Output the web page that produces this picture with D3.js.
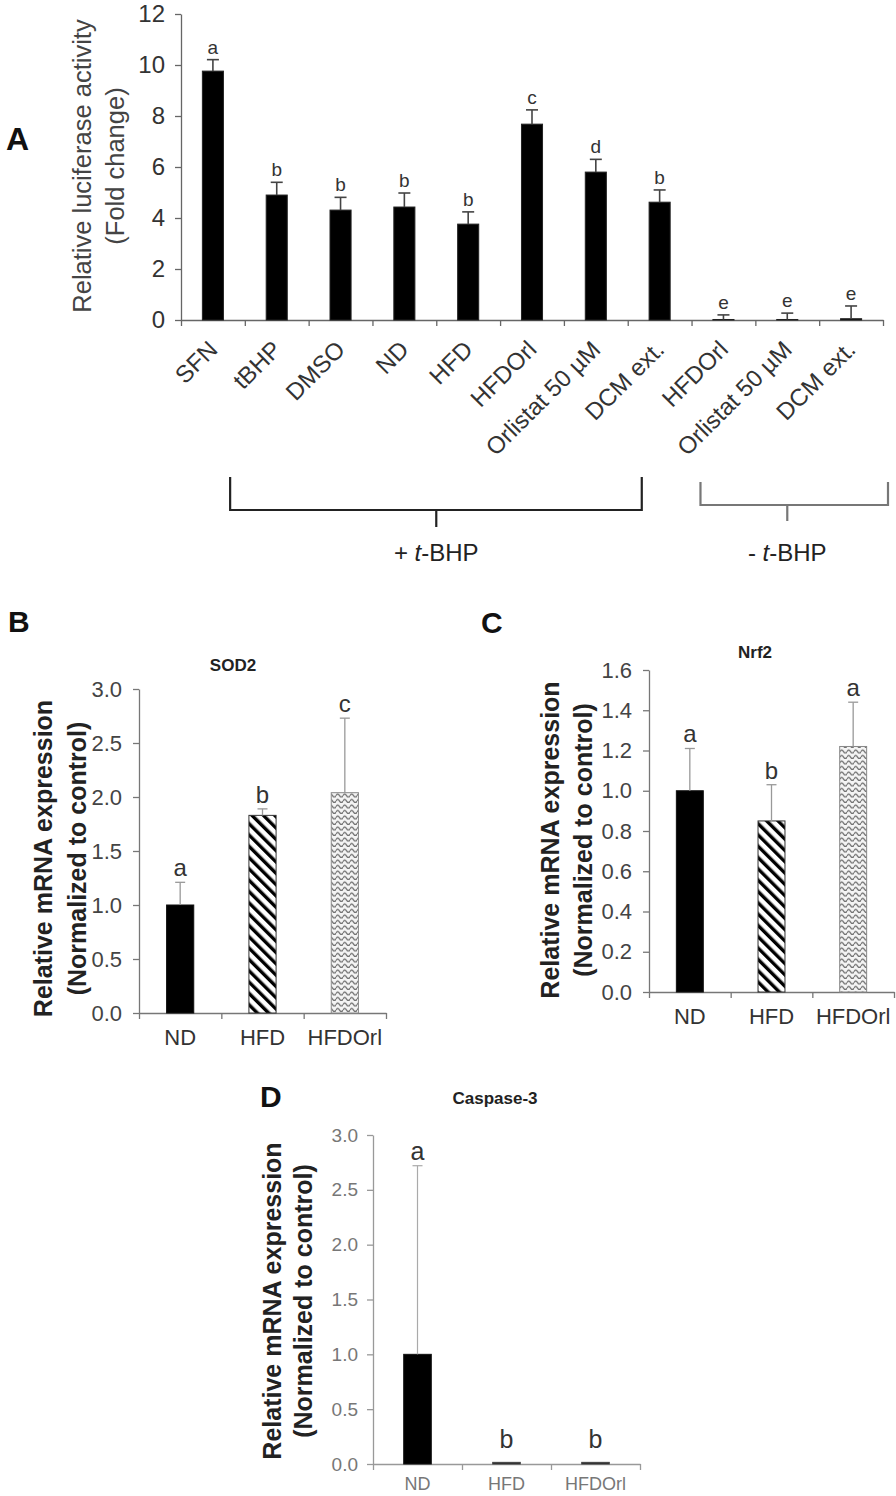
<!DOCTYPE html>
<html><head><meta charset="utf-8">
<script src="https://cdn.jsdelivr.net/npm/d3@7"></script>
<style>
body{margin:0;background:#fff}
svg{display:block}
text{font-family:"Liberation Sans",Arial,sans-serif}
</style>
</head><body>
<svg id="c" width="896" height="1496"></svg>
<script>
// ---------- Panel A data ----------
const catA = ["SFN","tBHP","DMSO","ND","HFD","HFDOrl","Orlistat 50 µM","DCM ext.","HFDOrl","Orlistat 50 µM","DCM ext."];
const valA = [9.76, 4.90, 4.31, 4.43, 3.76, 7.68, 5.80, 4.62, 0.02, 0.02, 0.05];
const errA = [0.45, 0.50, 0.50, 0.55, 0.48, 0.56, 0.50, 0.48, 0.18, 0.25, 0.50];
const letA = ["a","b","b","b","b","c","d","b","e","e","e"];
const ticksA = [0, 2, 4, 6, 8, 10, 12];
const groupA = [{label:"+ ", from:0, to:7, mid:3.5, dark:true}, {label:"- ", from:8, to:10, mid:9, dark:false}];

// ---------- Panel B (SOD2) ----------
const catB = ["ND","HFD","HFDOrl"];
const valB = [1.00, 1.83, 2.04];
const errB = [0.21, 0.06, 0.69];
const letB = ["a","b","c"];
const ticksB = [0, 0.5, 1.0, 1.5, 2.0, 2.5, 3.0];

// ---------- Panel C (Nrf2) ----------
const catC = ["ND","HFD","HFDOrl"];
const valC = [1.00, 0.85, 1.22];
const errC = [0.21, 0.18, 0.22];
const letC = ["a","b","a"];
const ticksC = [0, 0.2, 0.4, 0.6, 0.8, 1.0, 1.2, 1.4, 1.6];

// ---------- Panel D (Caspase-3) ----------
const catD = ["ND","HFD","HFDOrl"];
const valD = [1.00, 0.015, 0.015];
const errD = [1.72, 0, 0];
const letD = ["a","b","b"];
const ticksD = [0, 0.5, 1.0, 1.5, 2.0, 2.5, 3.0];

const svg = d3.select("#c");
const defs = svg.append("defs");
const pS = defs.append("pattern").attr("id","stripes").attr("patternUnits","userSpaceOnUse")
  .attr("width",8).attr("height",8).attr("patternTransform","rotate(-45)");
pS.append("rect").attr("width",8).attr("height",8).attr("fill","#fff");
pS.append("rect").attr("width",3.4).attr("height",8).attr("fill","#000");
const pW = defs.append("pattern").attr("id","wave").attr("patternUnits","userSpaceOnUse")
  .attr("width",7).attr("height",5.5);
pW.append("rect").attr("width",7).attr("height",5.5).attr("fill","#f4f4f4");
pW.append("path").attr("d","M0,3.6 Q1.75,0.6 3.5,3.6 T7,3.6").attr("fill","none")
  .attr("stroke","#6f6f6f").attr("stroke-width",1.3);

function drawPanel(o) {
  const n = o.cats.length;
  const g = svg.append("g");
  const x = d3.scaleBand().domain(d3.range(n)).range(o.xr).padding(0);
  const xb = d3.scaleLinear().domain([0, n]).range(o.xr);
  const y = d3.scaleLinear().domain(o.yd).range(o.yr);
  const bw = x.bandwidth();

  // y axis
  const ya = g.append("g").attr("transform", `translate(${o.xr[0]},0)`)
    .call(d3.axisLeft(y).tickValues(o.ticks).tickFormat(o.fmt).tickSize(o.tick).tickSizeOuter(0).tickPadding(o.pad));
  ya.select(".domain").attr("stroke", o.axisCol).attr("stroke-width", 1.3);
  ya.selectAll(".tick line").attr("stroke", o.axisCol).attr("stroke-width", 1.3);
  ya.selectAll(".tick text").attr("font-size", o.tickFs).attr("fill", o.tickCol).attr("font-family", '"Liberation Sans",Arial,sans-serif');

  // x axis (ticks at category boundaries)
  const xa = g.append("g").attr("transform", `translate(0,${y(0)})`)
    .call(d3.axisBottom(xb).tickValues(d3.range(n + 1)).tickFormat("").tickSize(o.tick).tickSizeOuter(0));
  xa.select(".domain").attr("stroke", o.axisCol).attr("stroke-width", 1.3);
  xa.selectAll(".tick line").attr("stroke", o.axisCol).attr("stroke-width", 1.3);

  // bars
  g.selectAll("rect.bar").data(o.vals).join("rect").attr("class","bar")
    .attr("x", (d, i) => x(i) + bw * (1 - o.bw) / 2)
    .attr("width", bw * o.bw)
    .attr("y", d => y(d))
    .attr("height", d => y(0) - y(d))
    .attr("fill", (d, i) => o.fills[i])
    .attr("stroke", (d, i) => o.strokes[i])
    .attr("stroke-width", 1);

  // error bars
  const eg = g.append("g").attr("stroke", o.errCol).attr("stroke-width", o.errW);
  o.vals.forEach((v, i) => {
    if (o.errs[i] <= 0) return;
    const cx = x(i) + bw / 2;
    eg.append("line").attr("x1", cx).attr("x2", cx).attr("y1", y(v)).attr("y2", y(v + o.errs[i]));
    eg.append("line").attr("x1", cx - o.cap).attr("x2", cx + o.cap).attr("y1", y(v + o.errs[i])).attr("y2", y(v + o.errs[i]));
  });

  // letters
  g.selectAll("text.let").data(o.letters).join("text").attr("class","let")
    .attr("x", (d, i) => x(i) + bw / 2)
    .attr("y", (d, i) => y(o.vals[i] + o.errs[i]) - (o.errs[i] > 0 ? o.letGap : o.letGap0))
    .attr("text-anchor", "middle").attr("font-size", o.letFs).attr("fill", o.letCol)
    .text(d => d);

  // category labels
  if (o.rotate) {
    g.selectAll("text.cat").data(o.cats).join("text").attr("class","cat")
      .attr("transform", (d, i) => `translate(${x(i) + bw / 2 + o.catDx},${y(0) + o.catDy}) rotate(-45)`)
      .attr("text-anchor", "end").attr("font-size", o.catFs).attr("fill", o.catCol)
      .text(d => d);
  } else {
    g.selectAll("text.cat").data(o.cats).join("text").attr("class","cat")
      .attr("x", (d, i) => x(i) + bw / 2).attr("y", y(0) + o.catDy)
      .attr("text-anchor", "middle").attr("font-size", o.catFs).attr("fill", o.catCol)
      .text(d => d);
  }

  // y title
  const yMid = (o.titleSpan[0] + o.titleSpan[1]) / 2;
  o.ytitle.forEach((t, k) => {
    g.append("text").attr("transform", `translate(${o.titleX[k]},${yMid}) rotate(-90)`)
      .attr("text-anchor", "middle").attr("dy", "0.35em")
      .attr("font-size", o.ytFs).attr("font-weight", o.ytW).attr("fill", o.ytCol)
      .text(t);
  });

  // chart title
  if (o.title) {
    g.append("text").attr("x", o.title[1]).attr("y", o.title[2]).attr("text-anchor","middle")
      .attr("font-size", o.titleFs).attr("font-weight","bold").attr("fill","#222").text(o.title[0]);
  }
  // panel letter
  g.append("text").attr("x", o.panel[1]).attr("y", o.panel[2]).attr("font-size", o.panelFs)
    .attr("font-weight","bold").attr("fill","#111").text(o.panel[0]);
  return {x, y, bw, xb};
}

// ---------- Panel A ----------
const A = drawPanel({
  cats: catA, vals: valA, errs: errA, letters: letA, ticks: ticksA, fmt: d3.format("d"),
  xr: [181, 883], yr: [320, 14], yd: [0, 12], tick: 6, pad: 10,
  axisCol: "#666", tickFs: 24, tickCol: "#333",
  bw: 0.33, fills: valA.map(() => "#000"), strokes: valA.map(() => "#222"),
  errCol: "#444", errW: 1.6, cap: 6, letGap: 6, letGap0: 6, letFs: 19, letCol: "#333",
  rotate: true, catDx: 6, catDy: 31, catFs: 24, catCol: "#333",
  ytitle: ["Relative luciferase activity", "(Fold change)"], titleX: [82, 115], titleSpan: [20, 312],
  ytFs: 25.5, ytW: "normal", ytCol: "#444",
  panel: ["A", 6, 150], panelFs: 32
});

// bracket groups for panel A
groupA.forEach(gr => {
  const col = gr.dark ? "#222" : "#777";
  const topY = gr.dark ? 477 : 482, botY = gr.dark ? 510 : 505, stemY = gr.dark ? 527 : 521;
  const x1 = A.x(gr.from) + A.bw * (gr.dark ? 0.77 : 0.14);
  const x2 = gr.dark ? A.x(gr.to) + A.bw * 0.22 : A.xb(gr.to + 1) + 5;
  const xm = A.xb(gr.mid + 0.5);
  svg.append("path").attr("d", `M${x1},${topY}V${botY}H${x2}V${topY}M${xm},${botY}V${stemY}`)
    .attr("fill","none").attr("stroke", col).attr("stroke-width", 2.2);
  const t = svg.append("text").attr("x", xm).attr("y", 561).attr("text-anchor","middle")
    .attr("font-size", 24).attr("fill", "#222");
  t.append("tspan").text(gr.label);
  t.append("tspan").attr("font-style","italic").text("t");
  t.append("tspan").text("-BHP");
});

// ---------- Panel B ----------
drawPanel({
  cats: catB, vals: valB, errs: errB, letters: letB, ticks: ticksB, fmt: d3.format(".1f"),
  xr: [139, 386], yr: [1013, 689], yd: [0, 3], tick: 6, pad: 11,
  axisCol: "#777", tickFs: 22, tickCol: "#444",
  bw: 0.33, fills: ["#000", "url(#stripes)", "url(#wave)"], strokes: ["#111", "#333", "#888"],
  errCol: "#999", errW: 1.3, cap: 5, letGap: 6, letGap0: 6, letFs: 24, letCol: "#333",
  rotate: false, catDy: 32, catFs: 22, catCol: "#333",
  ytitle: ["Relative mRNA expression", "(Normalized to control)"], titleX: [43, 77], titleSpan: [697, 1020],
  ytFs: 25, ytW: "bold", ytCol: "#222",
  title: ["SOD2", 233, 671], titleFs: 17,
  panel: ["B", 8, 632], panelFs: 30
});

// ---------- Panel C ----------
drawPanel({
  cats: catC, vals: valC, errs: errC, letters: letC, ticks: ticksC, fmt: d3.format(".1f"),
  xr: [649, 894], yr: [992, 670], yd: [0, 1.6], tick: 6, pad: 11,
  axisCol: "#777", tickFs: 22, tickCol: "#444",
  bw: 0.33, fills: ["#000", "url(#stripes)", "url(#wave)"], strokes: ["#111", "#333", "#888"],
  errCol: "#999", errW: 1.3, cap: 5, letGap: 6, letGap0: 6, letFs: 24, letCol: "#333",
  rotate: false, catDy: 32, catFs: 22, catCol: "#333",
  ytitle: ["Relative mRNA expression", "(Normalized to control)"], titleX: [550, 583], titleSpan: [678, 1002],
  ytFs: 25, ytW: "bold", ytCol: "#222",
  title: ["Nrf2", 755, 658], titleFs: 17,
  panel: ["C", 481, 633], panelFs: 30
});

// ---------- Panel D ----------
drawPanel({
  cats: catD, vals: valD, errs: errD, letters: letD, ticks: ticksD, fmt: d3.format(".1f"),
  xr: [373, 640], yr: [1464, 1135], yd: [0, 3], tick: 6, pad: 9,
  axisCol: "#999", tickFs: 19, tickCol: "#777",
  bw: 0.31, fills: ["#000", "#222", "#222"], strokes: ["#111", "#444", "#444"],
  errCol: "#aaa", errW: 1.2, cap: 5, letGap: 6, letGap0: 14, letFs: 25, letCol: "#333",
  rotate: false, catDy: 26, catFs: 18, catCol: "#777",
  ytitle: ["Relative mRNA expression", "(Normalized to control)"], titleX: [272, 303], titleSpan: [1140, 1462],
  ytFs: 25, ytW: "bold", ytCol: "#222",
  title: ["Caspase-3", 495, 1104], titleFs: 17,
  panel: ["D", 260, 1107], panelFs: 30
});
</script>
</body></html>
